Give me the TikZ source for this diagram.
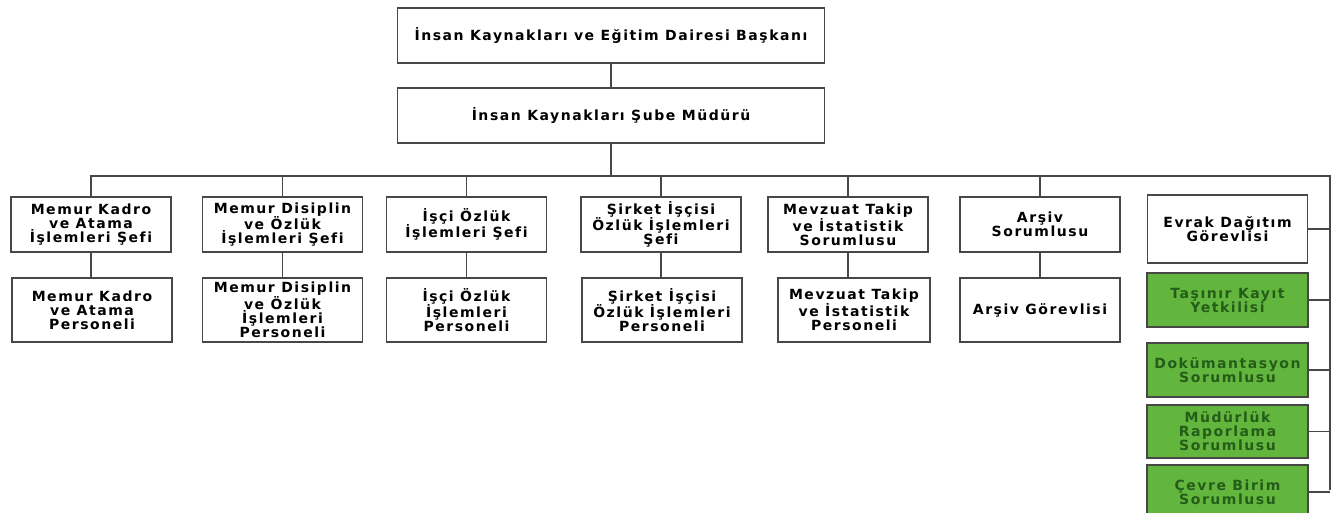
\documentclass[tikz,border=0pt]{standalone}
\usepackage{fontspec}
\setmainfont{DejaVu Sans}[LetterSpace=11, Ligatures=NoCommon]
\usetikzlibrary{positioning}
\definecolor{boxgreen}{RGB}{98,182,62}
\definecolor{textgreen}{RGB}{36,92,24}

\begin{document}
\begin{tikzpicture}[x=1pt, y=-1pt,
  box/.style={draw=black!72, line width=1.8pt, fill=white, align=center, inner sep=2pt,
    font=\fontsize{14}{14}\selectfont\bfseries},
  sef/.style={box, minimum width=160pt, minimum height=55pt},
  pers/.style={box, minimum width=160pt, minimum height=64pt},
  yesil/.style={box, fill=boxgreen, text=textgreen, minimum width=161pt, minimum height=54pt},
  hat/.style={draw=black!72, line width=1.6pt}]
\useasboundingbox (0,0) rectangle (1337,513);
% ust kademe
\node[box, minimum width=427pt, minimum height=55pt] (baskan) at (611,35.5) {İnsan Kaynakları ve Eğitim Dairesi Başkanı};
\node[box, minimum width=427pt, minimum height=55pt] (mudur) at (611,115.5) {İnsan Kaynakları Şube Müdürü};
% sefler
\node[sef] (sef1) at (91,224.5) {Memur Kadro\\ve Atama\\İşlemleri Şefi};
\node[sef] (sef2) at (282.5,224.5) {Memur Disiplin\\ve Özlük\\İşlemleri Şefi};
\node[sef] (sef3) at (466.5,224.5) {İşçi Özlük\\İşlemleri Şefi};
\node[sef] (sef4) at (661,224.5) {Şirket İşçisi\\Özlük İşlemleri\\Şefi};
\node[sef] (sef5) at (848,224.5) {Mevzuat Takip\\ve İstatistik\\Sorumlusu};
\node[sef] (sef6) at (1040,224.5) {Arşiv\\Sorumlusu};
\node[sef, minimum height=68pt] (evrak) at (1227.5,229) {Evrak Dağıtım\\Görevlisi};
% personel
\node[pers] (pers1) at (92,310) {Memur Kadro\\ve Atama\\Personeli};
\node[pers] (pers2) at (282.5,310) {Memur Disiplin\\ve Özlük\\İşlemleri\\Personeli};
\node[pers] (pers3) at (466.5,310) {İşçi Özlük\\İşlemleri\\Personeli};
\node[pers] (pers4) at (662,310) {Şirket İşçisi\\Özlük İşlemleri\\Personeli};
\node[pers, minimum width=152pt] (pers5) at (854,310) {Mevzuat Takip\\ve İstatistik\\Personeli};
\node[pers] (pers6) at (1040,310) {Arşiv Görevlisi};
% sag sutun
\node[yesil] (g1) at (1227.5,300) {Taşınır Kayıt\\Yetkilisi};
\node[yesil] (g2) at (1227.5,370) {Dokümantasyon\\Sorumlusu};
\node[yesil, minimum height=53pt] (g3) at (1227.5,431.5) {Müdürlük\\Raporlama\\Sorumlusu};
\node[yesil] (g4) at (1227.5,492) {Çevre Birim\\Sorumlusu};
\coordinate (ray) at (1330,490);
% baglantilar
\draw[hat] (baskan) -- (mudur);
\foreach \n in {sef1,sef2,sef3,sef4,sef5,sef6}
  \draw[hat] (mudur.south) -- ++(0,32) -| (\n.north);
\draw[hat] (mudur.south) -- ++(0,32) -| (ray);
\foreach \a/\b in {sef1/pers1,sef2/pers2,sef3/pers3,sef4/pers4,sef5/pers5,sef6/pers6}
  \draw[hat] (\a.south) -- (\a.south |- \b.north);
\foreach \n in {evrak,g1,g2,g3,g4}
  \draw[hat] (\n.east) -- (\n.east -| ray);
\end{tikzpicture}
\end{document}
